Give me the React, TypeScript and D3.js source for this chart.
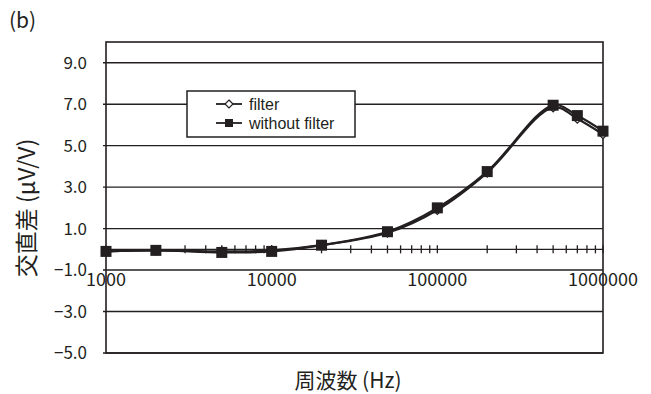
import React from "react";
import * as d3 from "d3";

const freqs = [1000, 2000, 5000, 10000, 20000, 50000, 100000, 200000, 500000, 700000, 1000000];
const filterVals = [-0.1, -0.05, -0.1, -0.05, 0.2, 0.8, 1.9, 3.7, 6.85, 6.3, 5.55];
const withoutVals = [-0.1, -0.05, -0.15, -0.1, 0.2, 0.85, 2.0, 3.75, 6.95, 6.45, 5.7];
const yTicks = [9, 7, 5, 3, 1, -1, -3, -5];
const xLabels = [1000, 10000, 100000, 1000000];
const seriesNames = ["filter", "without filter"];

const W = 651, H = 394;
const L = 106, R = 603, T = 42, B = 353;
const FONT = "'Noto Sans CJK JP', 'Noto Sans', sans-serif";
const LEG_FONT = "'Liberation Sans', Arial, sans-serif";

export default function App() {
  const x = d3.scaleLog().domain([1000, 1000000]).range([L, R]);
  const y = d3.scaleLinear().domain([-5, 10]).range([B, T]);
  const line = d3
    .line<number>()
    .x((_, i) => x(freqs[i]))
    .y((d) => y(d))
    .curve(d3.curveCatmullRom.alpha(0.5));

  const minor: number[] = [];
  for (let dec = 1000; dec < 1000000; dec *= 10) {
    for (let k = 1; k <= 9; k++) minor.push(dec * k);
  }
  minor.push(1000000);

  const stroke = "#231f20";
  const diamond = (cx: number, cy: number, s = 4.5) =>
    `M${cx},${cy - s}L${cx + s},${cy}L${cx},${cy + s}L${cx - s},${cy}Z`;

  return (
    <svg
      width={W}
      height={H}
      style={{ position: "absolute", left: 0, top: 0, background: "#fff" }}
      fontFamily={FONT}
    >
      <rect x={0} y={0} width={W} height={H} fill="#fff" />
      {/* gridlines */}
      {yTicks.map((t) => (
        <line key={t} x1={L - 3} x2={R} y1={y(t)} y2={y(t)} stroke={stroke} strokeWidth={1.4} />
      ))}
      {/* plot frame */}
      <rect x={L} y={T} width={R - L} height={B - T} fill="none" stroke={stroke} strokeWidth={1.6} />
      {/* x axis at 0 */}
      <line x1={L} x2={R} y1={y(0)} y2={y(0)} stroke={stroke} strokeWidth={1.4} />
      {minor.map((f, i) => (
        <line key={i} x1={x(f)} x2={x(f)} y1={y(0) - 4} y2={y(0) + 4} stroke={stroke} strokeWidth={1.3} />
      ))}
      {/* y labels */}
      {yTicks.map((t) => (
        <text key={t} x={87} y={y(t)} dy="0.36em" textAnchor="end" fontSize={17} fill="#231f20">
          {t < 0 ? "−" + Math.abs(t).toFixed(1) : t.toFixed(1)}
        </text>
      ))}
      {/* x labels */}
      {xLabels.map((f) => (
        <text key={f} x={x(f)} y={286} textAnchor="middle" fontSize={18} fill="#231f20">
          {f}
        </text>
      ))}
      {/* series */}
      <path d={line(withoutVals) || ""} fill="none" stroke={stroke} strokeWidth={2.2} />
      <path d={line(filterVals) || ""} fill="none" stroke={stroke} strokeWidth={2.2} />
      {filterVals.map((v, i) => (
        <path key={i} d={diamond(x(freqs[i]), y(v))} fill="#fff" stroke={stroke} strokeWidth={1.2} />
      ))}
      {withoutVals.map((v, i) => (
        <rect key={i} x={x(freqs[i]) - 5.5} y={y(v) - 5.5} width={11} height={11} fill={stroke} />
      ))}
      {/* legend */}
      <rect x={187} y={91} width={168} height={46} fill="#fff" stroke={stroke} strokeWidth={1.5} />
      <line x1={216} x2={242} y1={104} y2={104} stroke={stroke} strokeWidth={1.8} />
      <path d={diamond(229, 104, 4)} fill="#fff" stroke={stroke} strokeWidth={1.2} />
      <text x={249} y={104} dy="0.36em" fontSize={16} fontFamily={LEG_FONT} fill="#231f20">{seriesNames[0]}</text>
      <line x1={216} x2={242} y1={123} y2={123} stroke={stroke} strokeWidth={1.8} />
      <rect x={225} y={119} width={8} height={8} fill={stroke} />
      <text x={249} y={123} dy="0.36em" fontSize={16} fontFamily={LEG_FONT} fill="#231f20">{seriesNames[1]}</text>
      {/* titles */}
      <text x={9} y={28} fontSize={21} fill="#231f20">(b)</text>
      <text
        transform={`translate(35,${208}) rotate(-90)`}
        textAnchor="middle"
        fontSize={23}
        fill="#231f20"
      >
        交直差 (μV/V)
      </text>
      <text x={348} y={388} textAnchor="middle" fontSize={21} fill="#231f20">
        周波数 (Hz)
      </text>
    </svg>
  );
}
